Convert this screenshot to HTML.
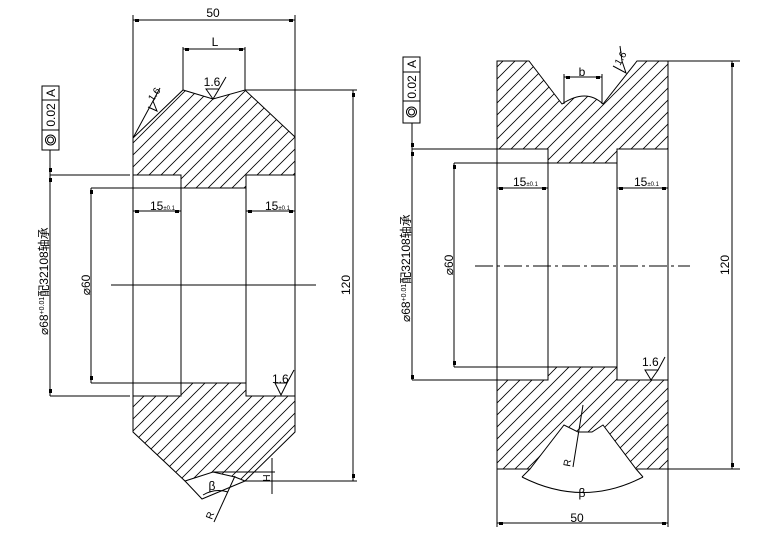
<!DOCTYPE html>
<html><head><meta charset="utf-8"><style>
html,body{margin:0;padding:0;background:#fff;width:766px;height:547px;overflow:hidden}
svg{display:block}
text{font-family:"Liberation Sans","Noto Sans CJK SC",sans-serif;fill:#000}
</style></head><body>
<svg width="766" height="547" viewBox="0 0 766 547" xmlns="http://www.w3.org/2000/svg">
<defs>
<pattern id="h" patternUnits="userSpaceOnUse" width="12" height="12">
<path d="M-1,13 L13,-1 M-7,7 L7,-7 M5,19 L19,5" stroke="#000" stroke-width="0.8"/>
</pattern>
</defs>
<g stroke="#000" stroke-width="1" fill="none">
<!-- LEFT DRAWING -->
<path d="M133,138 L183,90 L213,99 L245,90 L295,137 L295,175 L246,175 L246,188 L181,188 L181,175 L133,175 Z" fill="url(#h)"/>
<path d="M133,396 L181,396 L181,383 L246,383 L246,396 L295,396 L295,432 L245,481 L235,477 L213,472 L185,481 L133,432 Z" fill="url(#h)"/>
<path d="M133,15 L133,432 M295,15 L295,432"/>
<path d="M185,481 L202,499 L245,481"/>
<path d="M181,175 L181,396 M246,175 L246,396"/>
<path d="M133,20 L295,20"/>
<path d="M183,90 L183,47 M245,90 L245,47 M183,49 L245,49"/>
<path d="M245,90 L357,90 M353,90 L353,481 M245,481 L357,481"/>
<path d="M213,472 L275,472 M272,458 L272,494"/>
<path d="M91,188 L181,188 M91,383 L181,383 M91,188 L91,383"/>
<path d="M50,175 L130,175 M50,396 L130,396 M50,150 L50,396"/>
<path d="M111,285 L316,285"/>
<path d="M133,211 L181,211 M246,211 L295,211"/>
<rect x="42" y="86" width="17" height="64"/>
<path d="M42,100 L59,100 M42,130 L59,130"/>
<circle cx="50.5" cy="140" r="5"/><circle cx="50.5" cy="140" r="3"/>
<path d="M206,89 L213,99 L219,89 Z M219,89 L226,77"/>
<path d="M275,383 L281,395 L287,383 Z M287,383 L294,370"/>
<path d="M148,107 L157,111 L153,101 M160,88 L133,138"/>
<path d="M203,495 Q215,488 228,492"/>
<path d="M214,522 L235,476"/>
<!-- RIGHT DRAWING -->
<path d="M497,61 L529,61 L562,104 Q586,88 603,104 L637,61 L668,61 L668,149 L617,149 L617,163 L548,163 L548,149 L497,149 Z" fill="url(#h)"/>
<path d="M497,380 L548,380 L548,367 L617,367 L617,380 L668,380 L668,469 L636,469 L603,425 L592,432 L578,432 L564,425 L530,469 L497,469 Z" fill="url(#h)"/>
<path d="M497,61 L497,527 M668,61 L668,527"/>
<path d="M548,149 L548,380 M617,149 L617,380"/>
<path d="M530,469 L522,477 M636,469 L643,477"/>
<path d="M522,477 Q583,508 643,477"/>
<path d="M583,405 L573,467"/>
<path d="M564,104 L564,74 M602,104 L602,74 M564,77 L602,77"/>
<path d="M668,61 L740,61 M668,469 L740,469 M732,61 L732,469"/>
<path d="M497,523 L668,523"/>
<path d="M454,163 L548,163 M454,367 L548,367 M454,163 L454,367"/>
<path d="M412,149 L497,149 M412,380 L497,380 M412,123 L412,380"/>
<path d="M497,188 L548,188 M617,188 L668,188"/>
<path d="M475,266 L690,266" stroke-dasharray="18,4,3,4"/>
<rect x="403" y="57" width="17" height="66"/>
<path d="M403,72 L420,72 M403,101 L420,101"/>
<circle cx="411.5" cy="112" r="5"/><circle cx="411.5" cy="112" r="3"/>
<path d="M645,370 L651,380 L658,370 Z M658,370 L665,357"/>
<path d="M613,66 L626,73 L622,61 M622,61 L620,46"/>
</g>
<!-- tick marks -->
<g fill="#000">
<rect x="135" y="19" width="4" height="3"/><rect x="289" y="19" width="4" height="3"/>
<rect x="185" y="48" width="4" height="3"/><rect x="239" y="48" width="4" height="3"/>
<rect x="352" y="93" width="3" height="4"/><rect x="352" y="474" width="3" height="4"/>
<rect x="90" y="190" width="3" height="4"/><rect x="90" y="376" width="3" height="4"/>
<rect x="49" y="168" width="3" height="4"/><rect x="49" y="178" width="3" height="4"/><rect x="49" y="389" width="3" height="4"/>
<rect x="135" y="210" width="4" height="3"/><rect x="175" y="210" width="4" height="3"/>
<rect x="248" y="210" width="4" height="3"/><rect x="289" y="210" width="4" height="3"/>
<rect x="499" y="522" width="4" height="3"/><rect x="662" y="522" width="4" height="3"/>
<rect x="566" y="76" width="4" height="3"/><rect x="596" y="76" width="4" height="3"/>
<rect x="731" y="63" width="3" height="4"/><rect x="731" y="463" width="3" height="4"/>
<rect x="453" y="165" width="3" height="4"/><rect x="453" y="361" width="3" height="4"/>
<rect x="411" y="143" width="3" height="4"/><rect x="411" y="152" width="3" height="4"/><rect x="411" y="375" width="3" height="4"/>
<rect x="499" y="187" width="4" height="3"/><rect x="542" y="187" width="4" height="3"/>
<rect x="619" y="187" width="4" height="3"/><rect x="662" y="187" width="4" height="3"/>
</g>
<g font-size="12">
<text x="213" y="17" text-anchor="middle">50</text>
<text x="215" y="46" text-anchor="middle" font-family="Liberation Serif">L</text>
<text x="212" y="86" text-anchor="middle">1.6</text>
<text x="150" y="210">15<tspan font-size="6">±0.1</tspan></text>
<text x="265" y="210">15<tspan font-size="6">±0.1</tspan></text>
<text x="272" y="383">1.6</text>
<text x="212" y="490" text-anchor="middle">β</text>
<text transform="translate(350,285) rotate(-90)" text-anchor="middle">120</text>
<text transform="translate(90,285) rotate(-90)" text-anchor="middle">⌀60</text>
<text transform="translate(48,335) rotate(-90)">⌀68<tspan font-size="7" dy="-4">+0.01</tspan><tspan dy="4">配32108轴承</tspan></text>
<text transform="translate(55,93) rotate(-90)" text-anchor="middle">A</text>
<text transform="translate(55,115) rotate(-90)" text-anchor="middle">0.02</text>
<text transform="translate(270,478) rotate(-90)" text-anchor="middle" font-size="10">H</text>
<text transform="translate(212,520) rotate(-70)" font-size="10">R</text>
<text transform="translate(153,102) rotate(-55)" font-size="10">1.6</text>
<text x="582" y="76" text-anchor="middle" font-family="Liberation Serif">b</text>
<text x="513" y="186">15<tspan font-size="6">±0.1</tspan></text>
<text x="634" y="186">15<tspan font-size="6">±0.1</tspan></text>
<text x="642" y="366">1.6</text>
<text x="582" y="497" text-anchor="middle">β</text>
<text x="577" y="522" text-anchor="middle">50</text>
<text transform="translate(729,265) rotate(-90)" text-anchor="middle">120</text>
<text transform="translate(453,265) rotate(-90)" text-anchor="middle">⌀60</text>
<text transform="translate(410,322) rotate(-90)">⌀68<tspan font-size="7" dy="-4">+0.01</tspan><tspan dy="4">配32108轴承</tspan></text>
<text transform="translate(416,64) rotate(-90)" text-anchor="middle">A</text>
<text transform="translate(416,87) rotate(-90)" text-anchor="middle">0.02</text>
<text transform="translate(570,467) rotate(-80)" font-size="10">R</text>
<text transform="translate(620,66) rotate(-60)" font-size="10">1.6</text>
</g>
</svg>
</body></html>
